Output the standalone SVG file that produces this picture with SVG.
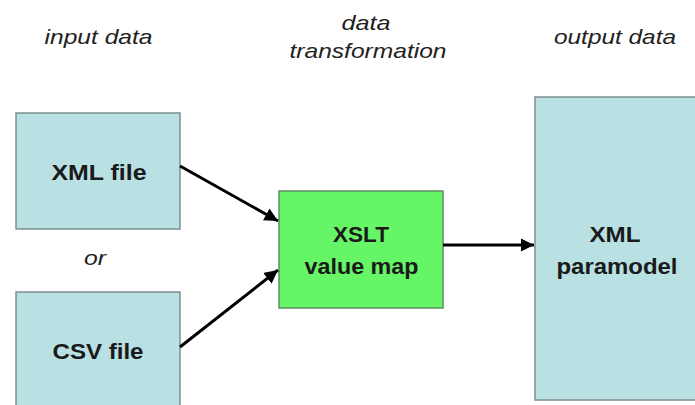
<svg xmlns="http://www.w3.org/2000/svg" width="695" height="405" viewBox="0 0 695 405">
<defs>
<style>
.hdr{font-family:"Liberation Sans",Arial,sans-serif;font-style:italic;font-size:21px;fill:#222;text-anchor:middle}
.lbl{font-family:"Liberation Sans",Arial,sans-serif;font-weight:bold;font-size:22px;fill:#1a1a1a;text-anchor:middle}
.blue{fill:#b9e0e3;stroke:#7d8f90;stroke-width:1.5}
.green{fill:#66f566;stroke:#5f8f5f;stroke-width:1.5}
.conn{stroke:#000;stroke-width:3;fill:none}
</style>
<marker id="arr" viewBox="0 0 10 10" refX="10" refY="5" markerWidth="4.5" markerHeight="4.5" orient="auto" markerUnits="strokeWidth">
<path d="M0,0 L10,5 L0,10 z" fill="#000"/>
</marker>
</defs>
<rect width="695" height="405" fill="#fff"/>
<g id="headers">
<text class="hdr" x="98.5" y="44" textLength="108" lengthAdjust="spacingAndGlyphs">input data</text>
<text class="hdr" x="366" y="30" textLength="49" lengthAdjust="spacingAndGlyphs">data</text>
<text class="hdr" x="368" y="58" textLength="157" lengthAdjust="spacingAndGlyphs">transformation</text>
<text class="hdr" x="615" y="44" textLength="122" lengthAdjust="spacingAndGlyphs">output data</text>
<text class="hdr" x="95" y="265" textLength="22" lengthAdjust="spacingAndGlyphs">or</text>
</g>
<g id="xml-file">
<rect class="blue" x="16" y="113" width="164" height="116"/>
<text class="lbl" x="99" y="180" textLength="95" lengthAdjust="spacingAndGlyphs">XML file</text>
</g>
<g id="csv-file">
<rect class="blue" x="16" y="292" width="164" height="125"/>
<text class="lbl" x="98" y="359" textLength="91" lengthAdjust="spacingAndGlyphs">CSV file</text>
</g>
<g id="xslt">
<rect class="green" x="279" y="191" width="164" height="117"/>
<text class="lbl" x="361" y="242" textLength="56" lengthAdjust="spacingAndGlyphs">XSLT</text>
<text class="lbl" x="361.5" y="274" textLength="114" lengthAdjust="spacingAndGlyphs">value map</text>
</g>
<g id="paramodel">
<rect class="blue" x="535" y="97" width="170" height="303"/>
<text class="lbl" x="615" y="242" textLength="51" lengthAdjust="spacingAndGlyphs">XML</text>
<text class="lbl" x="617" y="274" textLength="121" lengthAdjust="spacingAndGlyphs">paramodel</text>
</g>
<g id="connectors">
<line class="conn" x1="180" y1="166" x2="278" y2="221" marker-end="url(#arr)"/>
<line class="conn" x1="180" y1="347" x2="278" y2="270" marker-end="url(#arr)"/>
<line class="conn" x1="443" y1="245" x2="534" y2="245" marker-end="url(#arr)"/>
</g>
</svg>
